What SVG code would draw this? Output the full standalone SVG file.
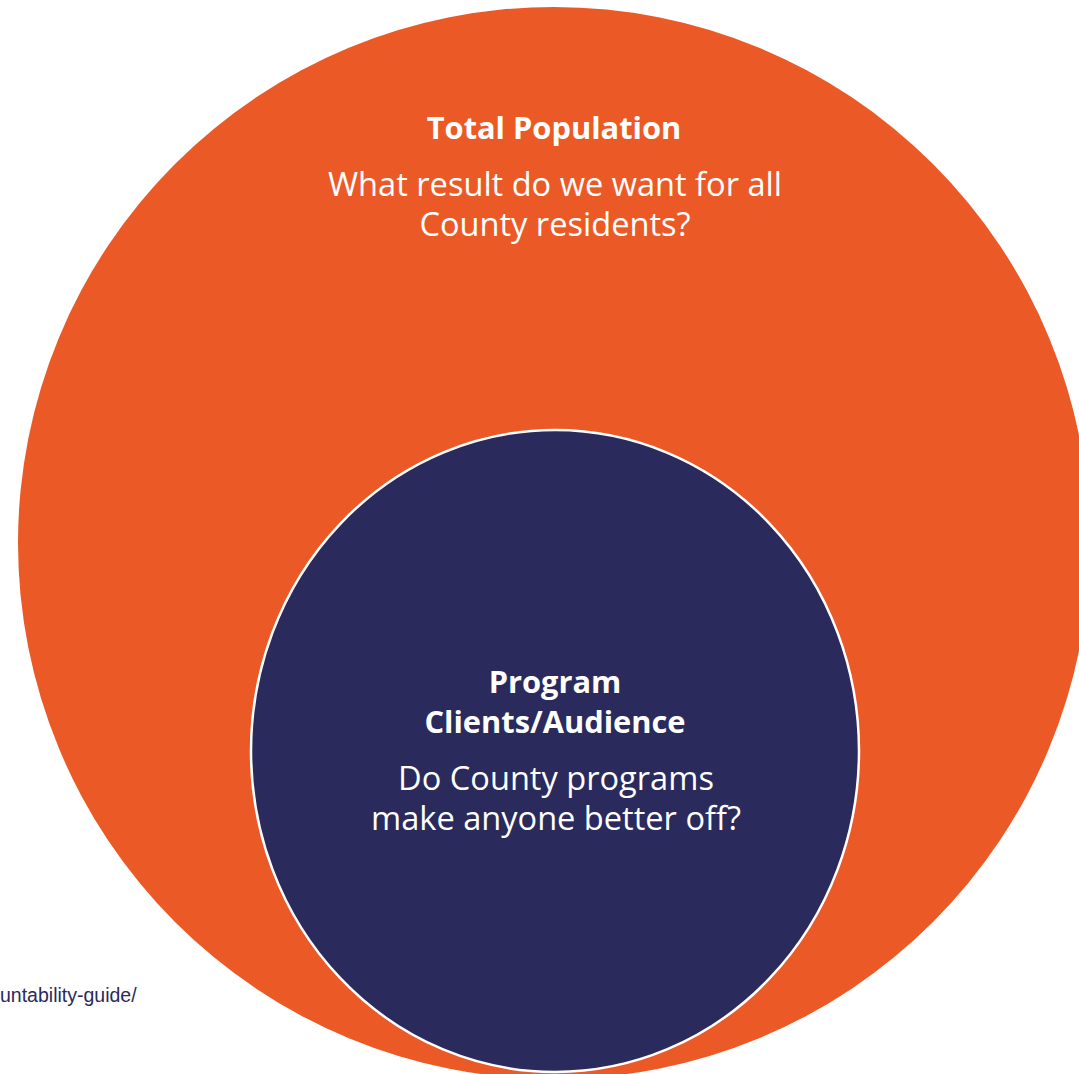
<svg xmlns="http://www.w3.org/2000/svg" width="1079" height="1074" viewBox="0 0 1079 1074">
<style>
.t{font-family:"Open Sans","Noto Sans",sans-serif;fill:#FFFFFF;text-anchor:middle}
.b{font-weight:bold;font-size:30.8px}
.r{font-size:32.6px}
.src{font-family:"Liberation Sans",Arial,sans-serif;fill:#2A2A5C}
</style>
<rect width="1079" height="1074" fill="#FFFFFF"/>
<g id="connectors"></g>
<g id="total-population">
<circle cx="554" cy="543" r="536" fill="#EB5A26"/>
<text class="t b" x="554" y="139">Total Population</text>
<text class="t r" x="555" y="196">What result do we want for all</text>
<text class="t r" x="555" y="236">County residents?</text>
</g>
<g id="program-clients">
<ellipse cx="555" cy="751" rx="304" ry="321" fill="#2A2A5C" stroke="#FFFFFF" stroke-width="2.5"/>
<text class="t b" x="555" y="693">Program</text>
<text class="t b" x="555" y="733">Clients/Audience</text>
<text class="t r" x="556" y="790">Do County programs</text>
<text class="t r" x="556" y="830">make anyone better off?</text>
</g>
<g id="source">
<text class="src" x="0" y="1002" font-size="19.5">untability-guide/</text>
</g>
</svg>
